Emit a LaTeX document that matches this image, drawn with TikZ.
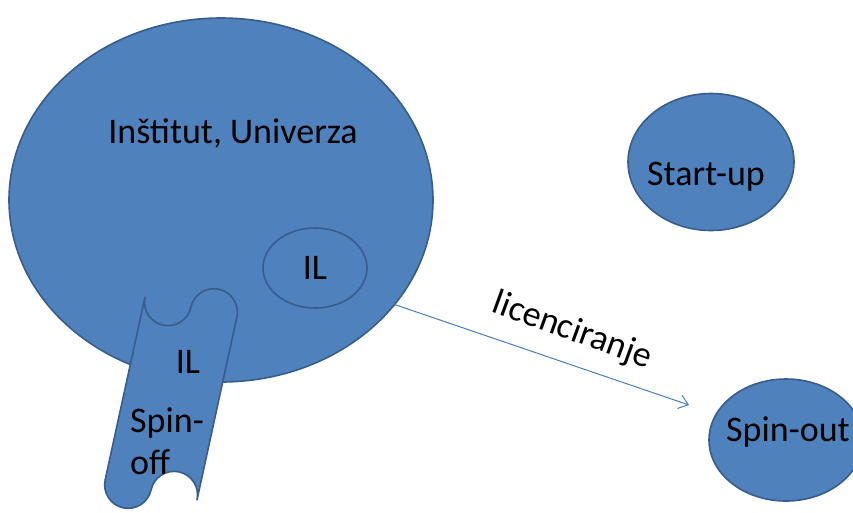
\documentclass[tikz,border=0pt]{standalone}
\usepackage{fontspec}
\setmainfont{Carlito}
\usetikzlibrary{shapes.geometric,arrows.meta}
\definecolor{pblue}{HTML}{4F81BD}
\definecolor{pedge}{HTML}{385D8A}
\definecolor{arrowblue}{HTML}{4A7EBB}
\tikzset{
  blob/.style={ellipse, fill=pblue, draw=pedge, line width=1.6pt, inner sep=0pt},
  lbl/.style={font=\fontsize{36}{39}\selectfont, text=black, inner sep=0pt},
}
\begin{document}
\begin{tikzpicture}[x=1pt,y=-1pt]
\useasboundingbox (0,0) rectangle (853,512);
\node[blob, minimum width=424pt, minimum height=364pt] (inst) at (221,200) {};
\node[lbl] (insttxt) at (233,133) {Inštitut, Univerza};
\node[blob, minimum width=104pt, minimum height=80pt] (il) at (315,268) {};
\node[lbl] (iltxt) at (315,268) {IL};
\node[blob, minimum width=166pt, minimum height=137pt] (start) at (711,162) {};
\node[lbl] (starttxt) at (706,177) {Start-up};
\node[blob, minimum width=154pt, minimum height=122pt] (spinout) at (786,440) {};
\node[lbl] (spinouttxt) at (788,432) {Spin-out};
% spin-off band
\begin{scope}[shift={(171,398.5)}, rotate=-12.3, y=1pt]
\filldraw[fill=pblue, draw=pedge, line width=1.6pt, line join=round]
  (-47,93.5) arc[start angle=180, end angle=360, radius=23.5pt]
  arc[start angle=180, end angle=0, radius=23.5pt]
  -- (47,-93.5)
  arc[start angle=0, end angle=180, radius=23.5pt]
  arc[start angle=0, end angle=-180, radius=23.5pt]
  -- cycle;
\end{scope}
\node[lbl] (il2txt) at (188,362) {IL};
\node[lbl, anchor=west] (spintxt) at (130,423) {Spin-};
\node[lbl, anchor=west] (offtxt) at (130,462) {off};
\coordinate (arrowend) at (689,405);
\draw[arrowblue, line width=1pt, -{Straight Barb[length=9pt,width=14pt]}] (inst.-31) -- (arrowend);
\node[lbl, rotate=-20] (lic) at (572,331) {licenciranje};
\end{tikzpicture}
\end{document}
